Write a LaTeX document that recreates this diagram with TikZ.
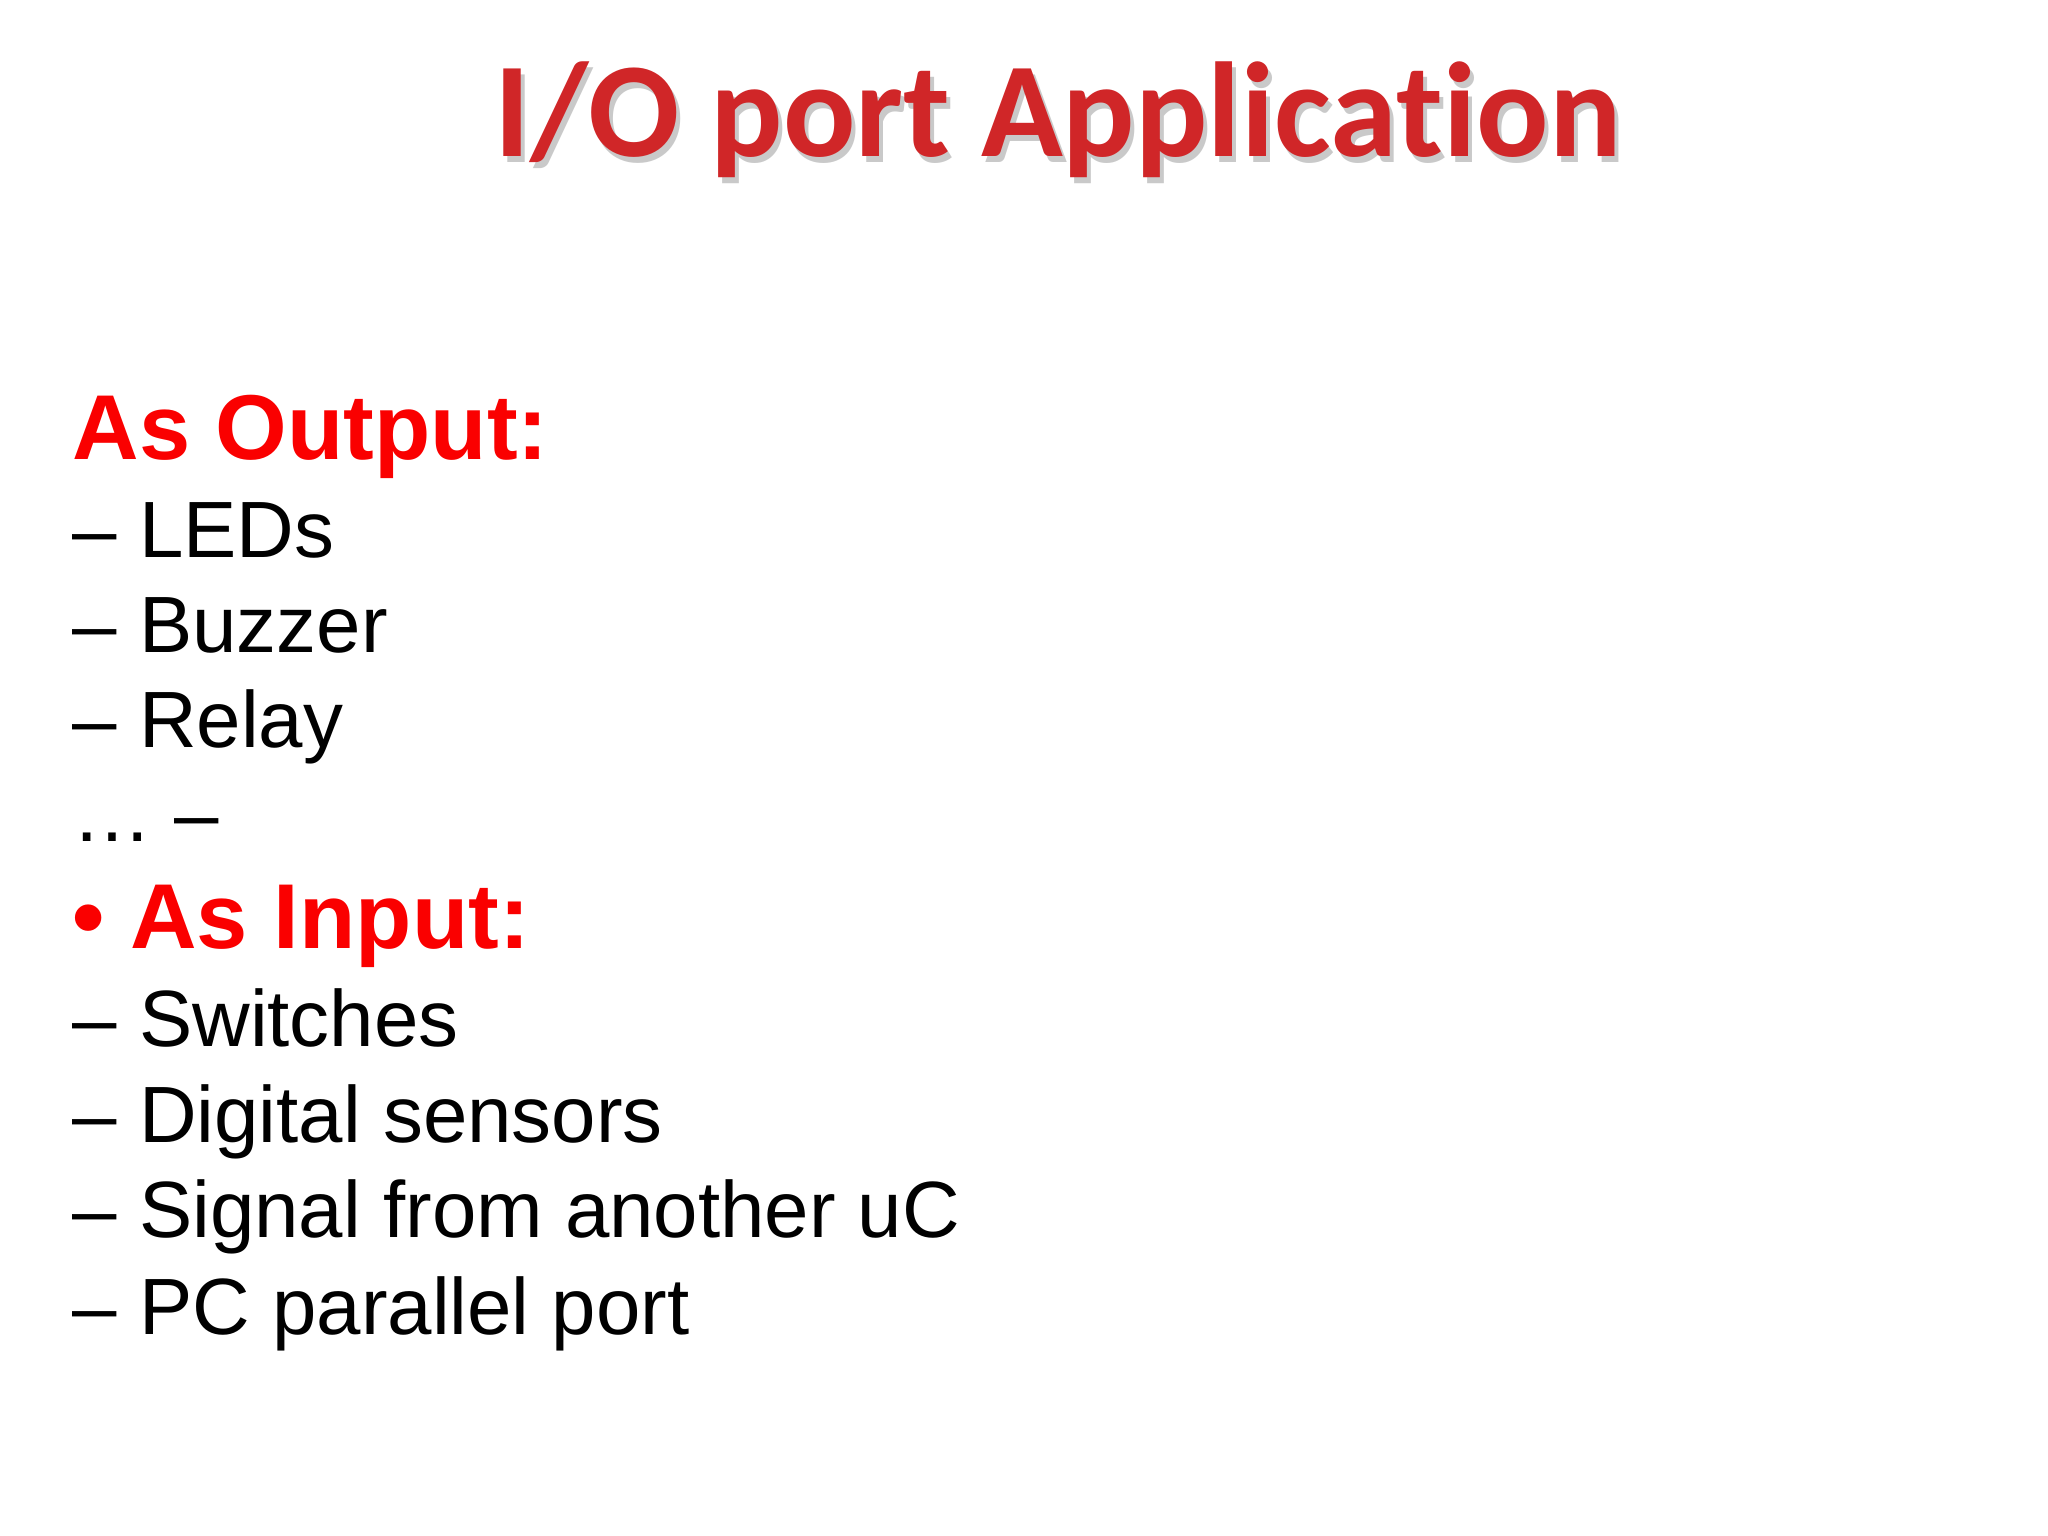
\documentclass[tikz,border=0pt]{standalone}
\usepackage{fontspec}
\setmainfont{Liberation Sans}
\newfontfamily\titlefont[Ligatures={NoCommon,NoRare}]{Carlito}
\definecolor{ttl}{RGB}{208,38,40}
\definecolor{hd}{RGB}{250,0,0}
\begin{document}
\begin{tikzpicture}[x=0.01cm,y=0.01cm,
  item/.style={anchor=base west,inner sep=0pt,font=\fontsize{22.7}{28}\selectfont},
  head/.style={anchor=base west,inner sep=0pt,text=hd,font=\fontsize{26.2}{32}\selectfont\bfseries}]
\useasboundingbox (0,0) rectangle (2048,1536);
\fill[white] (0,0) rectangle (2048,1536);
\node[anchor=base,inner sep=0pt,text=black!35,opacity=0.6,font=\titlefont\fontsize{38.4}{46}\selectfont\bfseries] at (1062,1373) {I/O port Applica\kern0pt tion};
\node (title)[anchor=base,inner sep=0pt,text=ttl,font=\titlefont\fontsize{38.4}{46}\selectfont\bfseries] at (1058,1379) {I/O port Applica\kern0pt tion};
\node (h1)[head] at (72,1076) {As Output:};
\node (a1)[item] at (72,978) {– LEDs};
\node (a2)[item] at (72,883) {– Buzzer};
\node (a3)[item] at (72,788) {– Relay};
\node (a4)[item] at (72,694) {… –};
\node (h2)[head] at (72,587) {• As Input:};
\node (b1)[item] at (72,489) {– Switches};
\node (b2)[item] at (72,393) {– Digital sensors};
\node (b3)[item] at (72,298) {– Signal from another uC};
\node (b4)[item] at (72,201) {– PC parallel port};
\end{tikzpicture}
\end{document}
